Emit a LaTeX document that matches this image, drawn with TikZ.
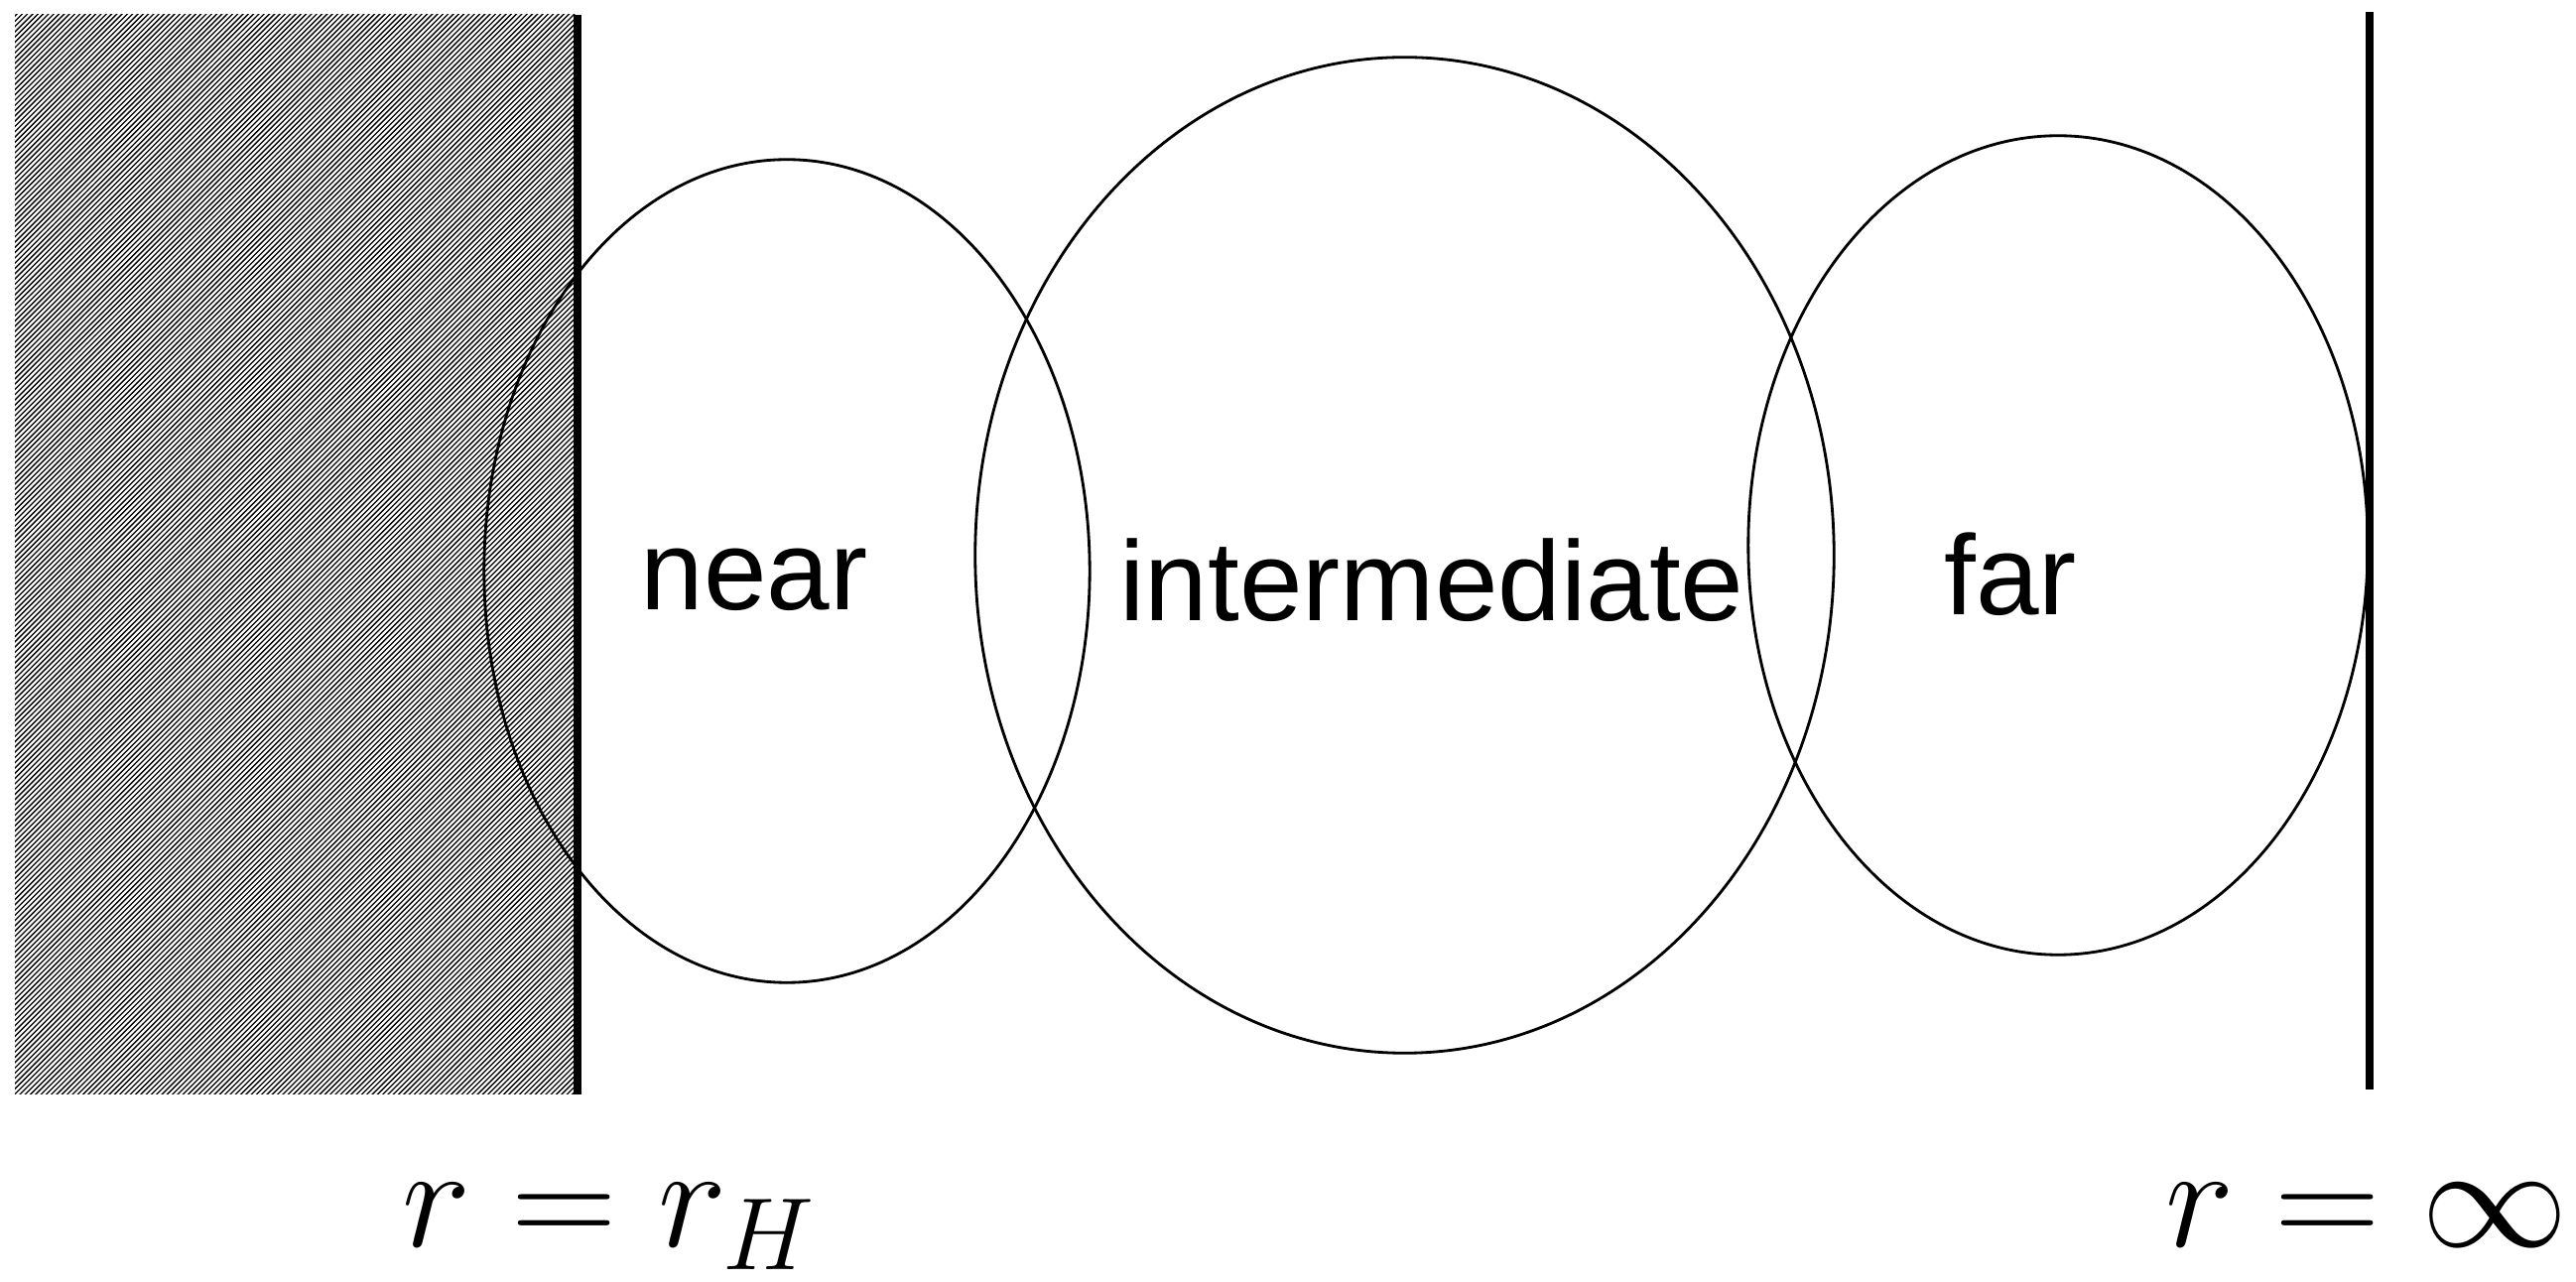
\RequirePackage{fix-cm}
\documentclass[tikz,border=0pt]{standalone}
\usepackage{fontspec}
\setmainfont{Liberation Sans}
\usetikzlibrary{shapes.geometric}
\tikzset{
  region/.style={draw=black, line width=0.8pt, ellipse, inner sep=0pt, outer sep=0pt},
  lbl/.style={font=\fontsize{32.5}{40}\selectfont, inner sep=0pt, anchor=base},
  mathlbl/.style={font=\fontsize{42}{50}\selectfont, inner sep=0pt, anchor=base west},
  hatchline/.style={line width=0.38pt, black},
  wall/.style={line width=2.4pt, black}
}
\begin{document}
\begin{tikzpicture}[x=0.01cm, y=-0.01cm]
\useasboundingbox (0,0) rectangle (2596,1292);
% hatched interior
\begin{scope}
  \clip (15,15) rectangle (582,1103);
  \foreach \k in {0,...,320} {
    \draw[hatchline] (\k*5.3-1100,1110) -- ++(1120,-1120);
  }
\end{scope}
% regions
\node[region, minimum width=6.10cm, minimum height=8.29cm] (nearE) at (793,575.5) {};
\node[region, minimum width=8.65cm, minimum height=10.03cm] (interE) at (1415.5,559.5) {};
\node[region, minimum width=6.24cm, minimum height=8.25cm] (farE) at (2074,549.5) {};
% walls
\coordinate (hT) at (582,15);
\coordinate (hB) at (582,1103);
\coordinate (iT) at (2388,12);
\coordinate (iB) at (2388,1098);
\draw[wall] (hT) -- (hB);
\draw[wall] (iT) -- (iB);
% labels
\node[lbl] (nearL) at (760,615) {near};
\node[lbl] (interL) at (1443,626) {intermediate};
\node[lbl] (farL) at (2026,620) {far};
\node[mathlbl] (rH) at (405,1257) {$r = r_H$};
\node[mathlbl] (rInf) at (2182,1257) {$r = \infty$};
\end{tikzpicture}
\end{document}
